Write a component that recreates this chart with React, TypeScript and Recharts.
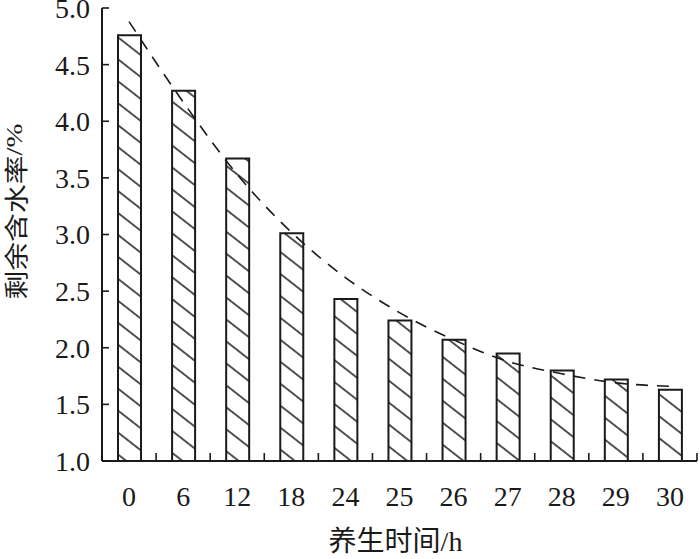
import React from 'react';
import { ComposedChart, Bar, Line, XAxis, YAxis } from 'recharts';

const categories = ['0', '6', '12', '18', '24', '25', '26', '27', '28', '29', '30'];
const residualMoisture = [4.76, 4.27, 3.67, 3.01, 2.43, 2.24, 2.07, 1.95, 1.8, 1.72, 1.63];
const fittedCurve = [4.88, 4.17, 3.53, 3.02, 2.62, 2.31, 2.07, 1.88, 1.77, 1.69, 1.66];
const yTicks = [1.0, 1.5, 2.0, 2.5, 3.0, 3.5, 4.0, 4.5, 5.0];

const data = categories.map((c, i) => ({ cat: c, value: residualMoisture[i], fit: fittedCurve[i] }));

const SERIF = '"Liberation Serif", "Times New Roman", serif';
const CJK = '"Noto Sans CJK SC", "Noto Sans CJK JP", sans-serif';
const INK = '#1a1a1a';
const X_TICK_MARGIN = 25;

const CatTick = (props: any) => {
  const { x, y, payload, width, visibleTicksCount } = props;
  let half = payload && typeof payload.offset === 'number' && payload.offset > 0 ? payload.offset : 0;
  if (!half && typeof width === 'number' && visibleTicksCount) {
    half = width / visibleTicksCount / 2;
  }
  const axisY = y - X_TICK_MARGIN;
  return (
    <g>
      <text x={x} y={y} dy="0.71em" textAnchor="middle" fontFamily={SERIF} fontSize={28} fill={INK}>
        {payload.value}
      </text>
      <line x1={x + half} x2={x + half} y1={axisY} y2={axisY - 8} stroke={INK} strokeWidth={1.6} />
    </g>
  );
};

export default function App() {
  return (
    <div style={{ position: 'absolute', left: 0, top: 0, width: 700, height: 559, background: '#fff' }}>
      <ComposedChart width={700} height={559} data={data} margin={{ top: 8, right: 3, bottom: 0, left: 0 }}>
        <defs>
          <pattern
            id="hatch"
            patternUnits="userSpaceOnUse"
            width={10}
            height={17.3}
            patternTransform="rotate(38)"
          >
            <rect x={0} y={0} width={10} height={17.3} fill="#fff" />
            <line x1={0} x2={10} y1={8.65} y2={8.65} stroke={INK} strokeWidth={1.5} />
          </pattern>
        </defs>
        <XAxis
          dataKey="cat"
          type="category"
          height={98}
          axisLine={{ stroke: INK, strokeWidth: 2 }}
          tickLine={false}
          tickSize={0}
          tickMargin={X_TICK_MARGIN}
          interval={0}
          tick={<CatTick />}
          label={{
            content: (p: any) => {
              const vb = p.viewBox || { x: 0, y: 0, width: 0, height: 0 };
              return (
                <text
                  x={vb.x + vb.width / 2 - 4}
                  y={vb.y + vb.height - 8}
                  textAnchor="middle"
                  fill={INK}
                  fontSize={28}
                >
                  <tspan fontFamily={CJK}>养生时间</tspan>
                  <tspan fontFamily={SERIF}>/h</tspan>
                </text>
              );
            },
          }}
        />
        <YAxis
          type="number"
          domain={[1, 5]}
          ticks={yTicks}
          interval={0}
          width={102}
          allowDataOverflow
          axisLine={{ stroke: INK, strokeWidth: 2 }}
          tickLine={{ stroke: INK, strokeWidth: 1.6 }}
          tickSize={-7}
          tickMargin={19}
          tickFormatter={(v: number) => v.toFixed(1)}
          tick={{ fontFamily: SERIF, fontSize: 28, fill: INK }}
          label={{
            content: (p: any) => {
              const vb = p.viewBox || { x: 0, y: 0, width: 0, height: 0 };
              const cx = vb.x + 14;
              const cy = vb.y + vb.height / 2 - 23;
              return (
                <text
                  transform={`translate(${cx}, ${cy}) rotate(-90) scale(1.2, 1)`}
                  textAnchor="middle"
                  dominantBaseline="central"
                  fill={INK}
                  fontSize={24}
                >
                  <tspan fontFamily={CJK}>剩余含水率</tspan>
                  <tspan fontFamily={SERIF}>/%</tspan>
                </text>
              );
            },
          }}
        />
        <Bar
          dataKey="value"
          barSize={23}
          fill="url(#hatch)"
          stroke={INK}
          strokeWidth={2}
          isAnimationActive={false}
        />
        <Line
          dataKey="fit"
          type="monotone"
          stroke={INK}
          strokeWidth={1.6}
          strokeDasharray="12 9"
          dot={false}
          activeDot={false}
          isAnimationActive={false}
        />
      </ComposedChart>
    </div>
  );
}
